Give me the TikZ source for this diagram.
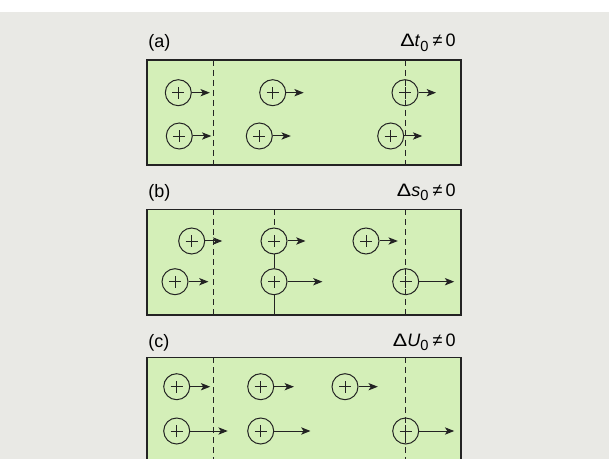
\documentclass[tikz,border=0pt]{standalone}
\usepackage{fontspec}
\setmainfont{Liberation Sans}
\usetikzlibrary{calc,arrows.meta}
\definecolor{PaleGreen}{RGB}{212,239,184}
\definecolor{PaperGrey}{RGB}{233,233,229}
\definecolor{InkGrey}{RGB}{35,35,35}
\newcommand{\shiftlabel}[1]{\scalebox{1.2}[1]{Δ}\textit{#1}\raisebox{-0.45ex}{\fontsize{11}{11}\selectfont 0}\kern3pt≠\kern2.5pt0}

\begin{document}
\begin{tikzpicture}[
    x=0.75pt, y=-0.75pt,
    font=\fontsize{13.5}{15}\selectfont,
    panel/.style={draw=InkGrey, line width=0.8pt, fill=PaleGreen},
    front/.style={draw=InkGrey, line width=0.75pt, dash pattern=on 4.5pt off 3pt},
    wall/.style={draw=InkGrey, line width=0.75pt},
    ion/.style={circle, draw=InkGrey, line width=0.75pt, minimum size=19.5pt, inner sep=0pt,
        path picture={
            \draw[InkGrey, line width=0.65pt]
                ([xshift=-4.5pt]path picture bounding box.center) -- ([xshift=4.5pt]path picture bounding box.center)
                ([yshift=-4.5pt]path picture bounding box.center) -- ([yshift=4.5pt]path picture bounding box.center);}},
    push/.style={-{Stealth[length=7pt,width=5.5pt,inset=1.8pt]}, InkGrey, line width=0.75pt},
]
\useasboundingbox (0,0) rectangle (609,459);
\clip (0,0) rectangle (609,459);
\fill[white] (0,0) rectangle (609,459);
\fill[PaperGrey] (0,12) rectangle (609,459);

% panel (a)
\draw[panel] (147,60) rectangle (461,165);
\node[anchor=base west, inner sep=0pt] (lab-a) at (148,48) {(a)};
\node[anchor=base east, inner sep=0pt] (cond-a) at (456,47) {\shiftlabel{t}};
\draw[front] (213,60) -- (213,165);
\draw[front] (405.5,60) -- (405.5,165);
\foreach \n/\x/\y/\l in {a11/178.3/92.7/18, a12/272.7/92.7/17.5, a13/405/92.7/17.5,
                         a21/179.3/136/18.5, a22/259.3/136/18, a23/390.7/136/18}{
    \node[ion] (\n) at (\x,\y) {};
    \coordinate (\n-tip) at ($(\n.east)+(\l,0)$);
    \draw[push] (\n) -- (\n-tip);
}

% panel (b)
\draw[panel] (147,209.3) rectangle (461,315);
\node[anchor=base west, inner sep=0pt] (lab-b) at (148,197.3) {(b)};
\node[anchor=base east, inner sep=0pt] (cond-b) at (456,196.3) {\shiftlabel{s}};
\draw[front] (213,209.3) -- (213,315);
\draw[front] (405.5,209.3) -- (405.5,315);
\foreach \n/\x/\y/\l in {b11/191.7/241/17, b12/274/241/18, b13/366/241/18.3,
                         b21/175/281.7/20, b22/274/281.7/35, b23/405.7/281.7/35}{
    \node[ion] (\n) at (\x,\y) {};
    \coordinate (\n-tip) at ($(\n.east)+(\l,0)$);
    \draw[push] (\n) -- (\n-tip);
}
\coordinate (b-top) at (274,209.3);
\coordinate (b-bot) at (274,315);
\draw[front] (b-top) -- (b12);
\draw[wall] (b12) -- (b22);
\draw[wall] (b22) -- (b-bot);

% panel (c)
\draw[panel] (147,357.3) rectangle (461,475);
\node[anchor=base west, inner sep=0pt] (lab-c) at (148,347) {(c)};
\node[anchor=base east, inner sep=0pt] (cond-c) at (456,346) {\shiftlabel{U}};
\draw[front] (213,357.3) -- (213,475);
\draw[front] (405.5,357.3) -- (405.5,475);
\foreach \n/\x/\y/\l in {c11/176.7/386.7/20, c12/260.7/386.7/19.7, c13/345/386.7/19.3,
                         c21/176.7/431/37.5, c22/260.7/431/36.3, c23/405.7/431/35}{
    \node[ion] (\n) at (\x,\y) {};
    \coordinate (\n-tip) at ($(\n.east)+(\l,0)$);
    \draw[push] (\n) -- (\n-tip);
}

\end{tikzpicture}
\end{document}
